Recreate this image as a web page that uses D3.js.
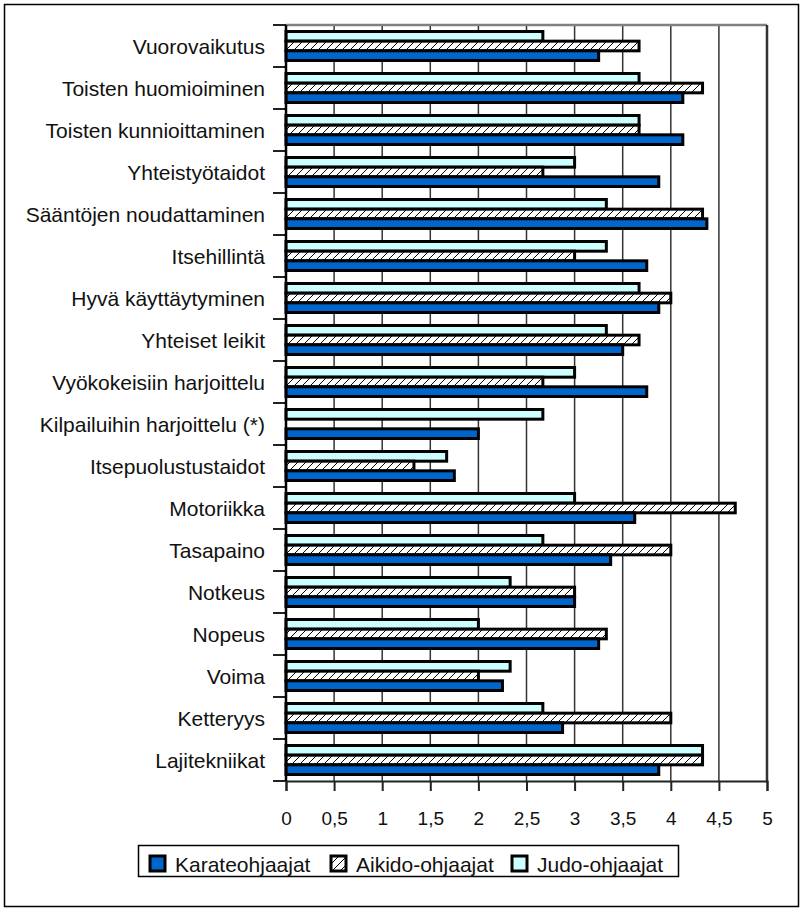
<!DOCTYPE html>
<html>
<head>
<meta charset="utf-8">
<script src="https://cdn.jsdelivr.net/npm/d3@7"></script>
<style>
  body { margin: 0; background: #fff; }
  svg { display: block; font-family: "Liberation Sans", Arial, sans-serif; }
</style>
</head>
<body>
<svg width="802" height="910"></svg>
<script>
// the data - categories from top to bottom
var categories = [
    "Vuorovaikutus", "Toisten huomioiminen", "Toisten kunnioittaminen", "Yhteistyötaidot",
    "Sääntöjen noudattaminen", "Itsehillintä", "Hyvä käyttäytyminen", "Yhteiset leikit",
    "Vyökokeisiin harjoittelu", "Kilpailuihin harjoittelu (*)", "Itsepuolustustaidot",
    "Motoriikka", "Tasapaino", "Notkeus", "Nopeus", "Voima", "Ketteryys", "Lajitekniikat"
];
var karate = [3.25, 4.125, 4.125, 3.875, 4.375, 3.75, 3.875, 3.5, 3.75, 2.0, 1.75, 3.625, 3.375, 3.0, 3.25, 2.25, 2.875, 3.875];
var aikido = [3.67, 4.33, 3.67, 2.67, 4.33, 3.0, 4.0, 3.67, 2.67, 0, 1.33, 4.67, 4.0, 3.0, 3.33, 2.0, 4.0, 4.33];
var judo = [2.67, 3.67, 3.67, 3.0, 3.33, 3.33, 3.67, 3.33, 3.0, 2.67, 1.67, 3.0, 2.67, 2.33, 2.0, 2.33, 2.67, 4.33];
var seriesNames = ["Karateohjaajat", "Aikido-ohjaajat", "Judo-ohjaajat"];
var xTicks = [0, 0.5, 1, 1.5, 2, 2.5, 3, 3.5, 4, 4.5, 5];

var svg = d3.select("svg");

// series drawn top to bottom inside a category: judo, aikido, karate
var series = [
    { name: seriesNames[2], values: judo, fill: "#ccffff" },
    { name: seriesNames[1], values: aikido, fill: "url(#hatch)" },
    { name: seriesNames[0], values: karate, fill: "#0066cc" }
];

// hatch pattern for aikido
var defs = svg.append("defs");
var pat = defs.append("pattern")
    .attr("id", "hatch")
    .attr("patternUnits", "userSpaceOnUse")
    .attr("width", 8)
    .attr("height", 8);
pat.append("rect").attr("width", 8).attr("height", 8).attr("fill", "#fff");
pat.append("path")
    .attr("d", "M0,8 L8,0 M-2,2 L2,-2 M6,10 L10,6")
    .attr("stroke", "#000")
    .attr("stroke-width", 1);

// outer frame
svg.append("rect")
    .attr("x", 4.5).attr("y", 4.5)
    .attr("width", 794).attr("height", 902)
    .attr("fill", "none")
    .attr("stroke", "#000")
    .attr("stroke-width", 1.5);

//////////// SCALES ////////////

var x = d3.scaleLinear().domain([0, 5]).range([286, 767]);
var y = d3.scaleBand().domain(categories).range([25, 781])
    .paddingInner(0.31).paddingOuter(0.155);
var ySub = d3.scaleBand().domain(d3.range(series.length)).range([0, y.bandwidth()]);

//////////// GRID ////////////

svg.append("g")
    .selectAll("line")
    .data(xTicks.slice(1))
    .enter().append("line")
    .attr("x1", d => x(d)).attr("x2", d => x(d))
    .attr("y1", 25).attr("y2", 781)
    .attr("stroke", "#333")
    .attr("stroke-width", 1.5);

// top border of plot area
svg.append("line")
    .attr("x1", x(0)).attr("x2", x(5))
    .attr("y1", 25).attr("y2", 25)
    .attr("stroke", "#808080")
    .attr("stroke-width", 2.5);
svg.append("line")
    .attr("x1", x(5)).attr("x2", x(5))
    .attr("y1", 25).attr("y2", 781)
    .attr("stroke", "#333")
    .attr("stroke-width", 2.5);

//////////// BARS ////////////

var groups = svg.append("g")
    .selectAll("g")
    .data(series)
    .enter().append("g")
    .attr("fill", d => d.fill);

groups.each(function (s, si) {
    d3.select(this).selectAll("rect")
        .data(s.values.map(function (v, i) { return { cat: categories[i], v: v }; })
            .filter(d => d.v > 0))
        .enter().append("rect")
        .attr("x", x(0))
        .attr("y", d => y(d.cat) + ySub(si))
        .attr("width", d => x(d.v) - x(0))
        .attr("height", ySub.bandwidth())
        .attr("stroke", "#000")
        .attr("stroke-width", 3);
});

//////////// AXES ////////////

var fi = d3.formatLocale({ decimal: ",", thousands: " ", grouping: [3], currency: ["", "€"] });
var xAxis = d3.axisBottom(x)
    .tickValues(xTicks)
    .tickSize(10)
    .tickPadding(21)
    .tickFormat(fi.format("~g"));

var gx = svg.append("g")
    .attr("transform", "translate(0,781)")
    .call(xAxis);
gx.select(".domain").attr("stroke", "#222").attr("stroke-width", 2);
gx.selectAll(".tick line").attr("stroke", "#222").attr("stroke-width", 2);
gx.selectAll(".tick text")
    .attr("fill", "#111")
    .style("font-size", "19px")
    .style("font-family", "'Liberation Sans', Arial, sans-serif");

// y axis: ticks at category boundaries
var bounds = categories.map(c => y(c) - y.step() * y.paddingOuter()).concat([781]);
svg.append("g")
    .selectAll("line")
    .data(bounds)
    .enter().append("line")
    .attr("x1", 273).attr("x2", x(0))
    .attr("y1", d => d).attr("y2", d => d)
    .attr("stroke", "#222")
    .attr("stroke-width", 2);
svg.append("line")
    .attr("x1", x(0)).attr("x2", x(0))
    .attr("y1", 25).attr("y2", 781)
    .attr("stroke", "#000")
    .attr("stroke-width", 2.5);

svg.append("g")
    .selectAll("text")
    .data(categories)
    .enter().append("text")
    .attr("x", 265)
    .attr("y", d => y(d) + y.bandwidth() / 2)
    .attr("dy", "0.36em")
    .attr("text-anchor", "end")
    .attr("fill", "#111")
    .style("font-size", "21px")
    .text(d => d);

//////////// LEGEND ////////////

svg.append("rect")
    .attr("x", 138.5).attr("y", 845.5)
    .attr("width", 540).attr("height", 31)
    .attr("fill", "#fff")
    .attr("stroke", "#000")
    .attr("stroke-width", 1.5);

var legendItems = [
    { name: seriesNames[0], fill: "#0066cc", x: 150 },
    { name: seriesNames[1], fill: "url(#hatch)", x: 331 },
    { name: seriesNames[2], fill: "#ccffff", x: 512 }
];
var leg = svg.append("g")
    .selectAll("g")
    .data(legendItems)
    .enter().append("g")
    .attr("transform", d => "translate(" + d.x + ",856)");
leg.append("rect")
    .attr("width", 15).attr("height", 15)
    .attr("fill", d => d.fill)
    .attr("stroke", "#000")
    .attr("stroke-width", 3);
leg.append("text")
    .attr("x", 25)
    .attr("y", 8)
    .attr("dy", "0.36em")
    .attr("fill", "#111")
    .style("font-size", "21px")
    .text(d => d.name);
</script>
</body>
</html>
